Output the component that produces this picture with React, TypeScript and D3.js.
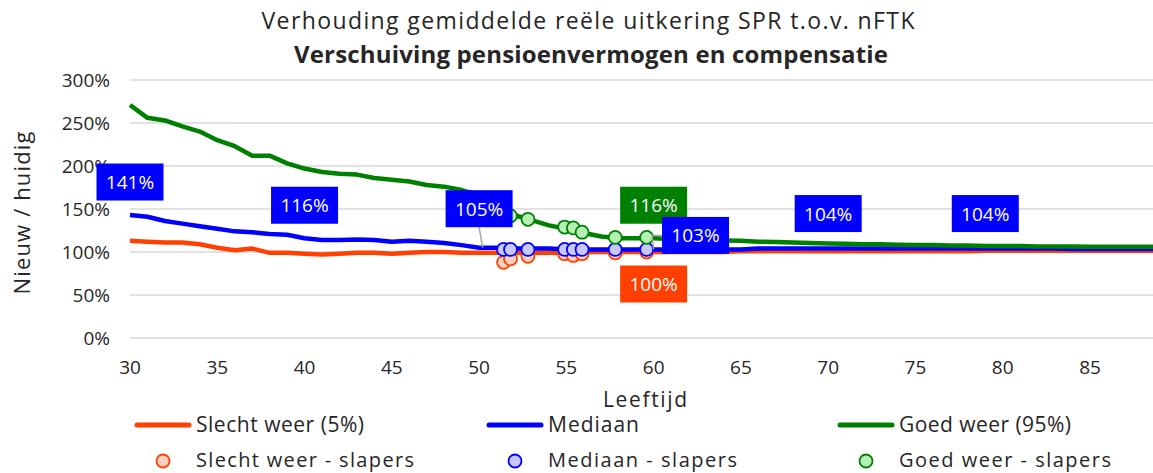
import * as d3 from 'd3';

const ages = [30, 31, 32, 33, 34, 35, 36, 37, 38, 39, 40, 41, 42, 43, 44, 45, 46, 47, 48, 49,
  50, 51, 52, 53, 54, 55, 56, 57, 58, 59, 60, 61, 62, 63, 64, 65, 66, 67, 68, 69,
  70, 71, 72, 73, 74, 75, 76, 77, 78, 79, 80, 81, 82, 83, 84, 85, 86, 87, 88, 89];

const slechtWeer = [113, 112, 111, 111, 109, 105, 102, 104, 99, 99, 98, 97, 98, 99, 99, 98, 99, 100, 100, 99,
  99, 99, 99, 99, 99, 99, 100, 100, 100, 100, 100, 100, 100, 100, 100, 101, 101, 101, 101, 101,
  101, 101, 101, 101, 101, 101, 101, 101, 101, 101.5, 101.5, 101.5, 101.5, 101.5, 101.5, 101.5, 101.5, 101.5, 101.5, 101.5];

const mediaan = [143, 141, 136, 133, 130, 127, 124, 123, 121, 120, 116, 114, 114, 114.5, 114, 112, 113, 112, 110.5, 108,
  105, 105, 104, 104, 104, 103, 103, 103, 103, 103, 103, 103, 103, 103, 103, 103, 104, 104, 104, 104,
  104, 104, 104, 104, 104, 104, 104, 104, 104, 104, 104, 104, 104, 104, 103.5, 103.5, 103.5, 103.5, 103.5, 103.5];

const goedWeer = [271, 256, 253, 246, 240, 230, 223, 212, 212, 203, 197, 193, 191, 190, 186, 184, 182, 178, 176, 172,
  166, 152, 143, 137, 131, 127, 122, 118, 116, 116, 116, 115, 114.5, 114, 113.5, 113, 112, 111.5, 111, 110.5,
  110, 109.5, 109, 109, 108.5, 108, 108, 107.5, 107.5, 107, 107, 107, 106.5, 106.5, 106.5, 106, 106, 106, 106, 106];

// slapers (deferred members)
const slaperAges = [51.4, 51.8, 52.8, 54.9, 55.4, 55.9, 57.8, 59.6];
const slaperSlecht = [88, 92, 95, 98, 96, 98, 99, 100];
const slaperMediaan = [103, 103, 103, 103, 103, 103, 103, 103];
const slaperGoed = [149, 142, 138, 129, 128, 123, 117, 117];

const yTicks = [0, 50, 100, 150, 200, 250, 300];
const xTicks = [30, 35, 40, 45, 50, 55, 60, 65, 70, 75, 80, 85];

// data labels
const labels = [
  { age: 30, text: '141%', s: 'mediaan', dy: -33, lead: '' },
  { age: 40, text: '116%', s: 'mediaan', dy: -33, lead: '' },
  { age: 50, text: '105%', s: 'mediaan', dy: -39, lead: 'down' },
  { age: 60, text: '116%', s: 'goed', dy: -33, lead: '' },
  { age: 62.4, text: '103%', s: 'mediaan', dy: -14, lead: 'left' },
  { age: 60, text: '100%', s: 'slecht', dy: 32, lead: '' },
  { age: 70, text: '104%', s: 'mediaan', dy: -35, lead: '' },
  { age: 79, text: '104%', s: 'mediaan', dy: -35, lead: '' },
];

const legendItems = [
  { lx: 135, label: 'Slecht weer (5%)', lw: 168, c: '#ff4000', fill: '#fdd0c0', sl: 'Slecht weer - slapers', sw: 218 },
  { lx: 487, label: 'Mediaan', lw: 91, c: '#0000ff', fill: '#c8c8ff', sl: 'Mediaan - slapers', sw: 189 },
  { lx: 838, label: 'Goed weer (95%)', lw: 172, c: '#008000', fill: '#b4f0b4', sl: 'Goed weer - slapers', sw: 212 },
];

const RED = '#ff4000';
const BLUE = '#0000ff';
const GREEN = '#008000';
const FONT = '"Open Sans", "Noto Sans", sans-serif';
const TEXT = '#262626';

const W = 1153;
const H = 473;

export default function App() {
  const x = d3.scaleLinear().domain([30, 85]).range([130, 1090]);
  const y = d3.scaleLinear().domain([0, 300]).range([338, 80]);

  const line = (vals: number[]) =>
    d3.line<number>().x((_, i) => x(ages[i])).y((d) => y(d))(vals) || '';

  const colorOf: Record<string, string> = { slecht: RED, mediaan: BLUE, goed: GREEN };
  const seriesOf: Record<string, number[]> = { slecht: slechtWeer, mediaan: mediaan, goed: goedWeer };

  const valueAt = (s: string, age: number) => {
    const arr = seriesOf[s];
    const i = Math.floor(age - 30);
    const t = age - 30 - i;
    return arr[i] + (arr[Math.min(i + 1, arr.length - 1)] - arr[i]) * t;
  };

  const slapers = [
    { vals: slaperSlecht, stroke: RED, fill: '#fdd0c0' },
    { vals: slaperMediaan, stroke: BLUE, fill: '#c8c8ff' },
    { vals: slaperGoed, stroke: GREEN, fill: '#b4f0b4' },
  ];

  const boxW = 67;
  const boxH = 37;

  return (
    <svg width={W} height={H} style={{ position: 'absolute', left: 0, top: 0, background: '#fff' }}>
      <text x={588} y={29} textAnchor="middle" fontFamily={FONT} fontSize={23} fill={TEXT} textLength={653}>
        Verhouding gemiddelde reële uitkering SPR t.o.v. nFTK
      </text>
      <text x={591} y={63} textAnchor="middle" fontFamily={FONT} fontSize={24} fontWeight="bold" fill={TEXT} textLength={594}>
        Verschuiving pensioenvermogen en compensatie
      </text>

      {yTicks.map((t) => (
        <g key={t}>
          <line x1={130} x2={W} y1={y(t)} y2={y(t)} stroke="#d9d9d9" strokeWidth={1.5} />
          <text x={110} y={y(t) + 7} textAnchor="end" fontFamily={FONT} fontSize={19} fill={TEXT}>
            {t}%
          </text>
        </g>
      ))}
      {xTicks.map((t) => (
        <text key={t} x={x(t)} y={374} textAnchor="middle" fontFamily={FONT} fontSize={19} fill={TEXT}>
          {t}
        </text>
      ))}
      <text x={645} y={407} textAnchor="middle" fontFamily={FONT} fontSize={21} fill={TEXT} textLength={84}>
        Leeftijd
      </text>
      <text transform="translate(30,213) rotate(-90)" textAnchor="middle" fontFamily={FONT} fontSize={22} fill={TEXT} textLength={163}>
        Nieuw / huidig
      </text>

      <path d={line(slechtWeer)} fill="none" stroke={RED} strokeWidth={4.5} strokeLinejoin="round" />
      <path d={line(mediaan)} fill="none" stroke={BLUE} strokeWidth={4.5} strokeLinejoin="round" />
      <path d={line(goedWeer)} fill="none" stroke={GREEN} strokeWidth={4.5} strokeLinejoin="round" />

      {slapers.map((s, k) => (
        <g key={k}>
          {s.vals.map((v, i) => (
            <circle key={i} cx={x(slaperAges[i])} cy={y(v)} r={6.5} fill={s.fill} stroke={s.stroke} strokeWidth={1.8} />
          ))}
        </g>
      ))}

      {labels.map((l, i) => {
        const v = valueAt(l.s, l.age);
        const cx = x(l.age);
        const cy = y(v) + l.dy;
        return (
          <g key={i}>
            {l.lead === 'down' && (
              <line x1={cx} y1={cy + boxH / 2} x2={x(l.age + 0.2)} y2={y(valueAt(l.s, l.age + 0.2))} stroke="#a6a6a6" strokeWidth={1.5} />
            )}
            {l.lead === 'left' && (
              <polyline
                points={`${cx - boxW / 2},${cy} ${cx - boxW / 2 - 10},${cy} ${x(60)},${y(valueAt('mediaan', 60))}`}
                fill="none"
                stroke="#a6a6a6"
                strokeWidth={1.5}
              />
            )}
            <rect x={cx - boxW / 2} y={cy - boxH / 2} width={boxW} height={boxH} fill={colorOf[l.s]} />
            <text x={cx} y={cy + 7} textAnchor="middle" fontFamily={FONT} fontSize={19} fill="#fff">
              {l.text}
            </text>
          </g>
        );
      })}

      {/* legend */}
      {legendItems.map((d, i) => (
        <g key={i}>
          <line x1={d.lx + 2} x2={d.lx + 54} y1={425} y2={425} stroke={d.c} strokeWidth={5} strokeLinecap="round" />
          <text x={d.lx + 61} y={432} fontFamily={FONT} fontSize={21} fill={TEXT} textLength={d.lw}>
            {d.label}
          </text>
          <circle cx={d.lx + 28} cy={461} r={6.5} fill={d.fill} stroke={d.c} strokeWidth={1.8} />
          <text x={d.lx + 61} y={467} fontFamily={FONT} fontSize={20} fill={TEXT} textLength={d.sw}>
            {d.sl}
          </text>
        </g>
      ))}
    </svg>
  );
}
